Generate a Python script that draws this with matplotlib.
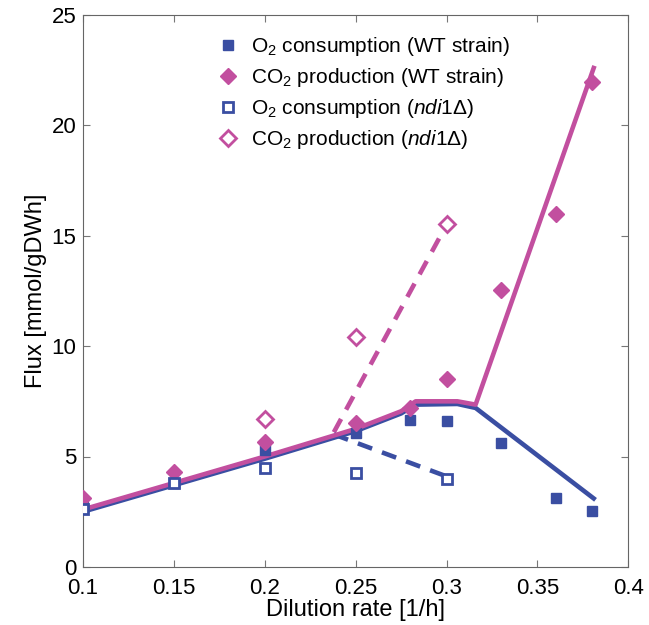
import matplotlib.pyplot as plt

plt.rcParams['font.family'] = ['Liberation Sans', 'DejaVu Sans']
plt.rcParams['mathtext.fontset'] = 'custom'
plt.rcParams['mathtext.rm'] = 'Liberation Sans'
plt.rcParams['mathtext.it'] = 'Liberation Sans:italic'

blue = '#3a4ea2'
pink = '#c24f9f'

# measured data (WT strain)
wt_d = [0.1, 0.15, 0.2, 0.25, 0.28, 0.3, 0.33, 0.36, 0.38]
wt_o2 = [2.7, 3.8, 5.3, 6.05, 6.65, 6.6, 5.6, 3.1, 2.55]
wt_co2 = [3.1, 4.3, 5.65, 6.5, 7.2, 8.5, 12.55, 16.0, 21.95]

# measured data (ndi1 mutant)
nd_o2_d = [0.1, 0.15, 0.2, 0.25, 0.3]
nd_o2 = [2.6, 3.8, 4.5, 4.25, 4.0]
nd_co2_d = [0.2, 0.25, 0.3]
nd_co2 = [6.7, 10.4, 15.55]

# model predictions
mod_d_co2 = [0.1, 0.15, 0.2, 0.25, 0.275, 0.283, 0.306, 0.316, 0.381]
mod_co2 = [2.6, 3.8, 5.0, 6.25, 7.05, 7.5, 7.5, 7.35, 22.6]
mod_d_o2 = [0.1, 0.15, 0.2, 0.25, 0.275, 0.283, 0.306, 0.316, 0.381]
mod_o2 = [2.5, 3.7, 4.9, 6.15, 6.95, 7.35, 7.38, 7.2, 3.1]
nd_mod_d = [0.238, 0.3]
nd_mod_co2 = [6.1, 15.5]
nd_mod_o2 = [6.0, 4.1]

fig = plt.figure(figsize=(6.49, 6.25), dpi=100)
ax = fig.add_axes([0.128, 0.093, 0.84, 0.883])

# lines
ax.plot(nd_mod_d, nd_mod_co2, color=pink, lw=3.3, ls=(0, (3.3, 2.3)))
ax.plot(nd_mod_d, nd_mod_o2, color=blue, lw=3.3, ls=(0, (3.3, 2.3)))
ax.plot(mod_d_o2, mod_o2, color=blue, lw=3.3)
ax.plot(mod_d_co2, mod_co2, color=pink, lw=3.3)

# points
ax.plot(wt_d, wt_o2, 's', color=blue, ms=7, ls='none', label='O$_2$ consumption (WT strain)', zorder=3)
ax.plot(wt_d, wt_co2, 'D', color=pink, ms=8, ls='none', label='CO$_2$ production (WT strain)', zorder=3)
ax.plot(nd_o2_d, nd_o2, 's', mfc='white', mec=blue, mew=2, ms=7, ls='none',
        label=r'O$_2$ consumption ($\mathit{ndi1}\Delta$)', zorder=3)
ax.plot(nd_co2_d, nd_co2, 'D', mfc='white', mec=pink, mew=2, ms=8, ls='none',
        label=r'CO$_2$ production ($\mathit{ndi1}\Delta$)', zorder=3)

ax.set_xlim(0.1, 0.4)
ax.set_ylim(0, 25)
ax.set_xticks([0.1, 0.15, 0.2, 0.25, 0.3, 0.35, 0.4])
ax.set_xticklabels(['0.1', '0.15', '0.2', '0.25', '0.3', '0.35', '0.4'])
ax.set_yticks([0, 5, 10, 15, 20, 25])
ax.tick_params(direction='in', top=True, right=True, labelsize=16, length=5, color='#777777')
ax.tick_params(axis='x', pad=8)
ax.tick_params(axis='y', pad=5)
for s in ax.spines.values():
    s.set_color('#666666')
ax.set_xlabel('Dilution rate [1/h]', fontsize=17, labelpad=0)
ax.set_ylabel('Flux [mmol/gDWh]', fontsize=17, labelpad=3)

ax.legend(loc='upper left', bbox_to_anchor=(0.22, 0.99), frameon=False, fontsize=15,
          handletextpad=0.6, labelspacing=0.38, handlelength=1.0, borderpad=0.2)

plt.savefig('out.png')
